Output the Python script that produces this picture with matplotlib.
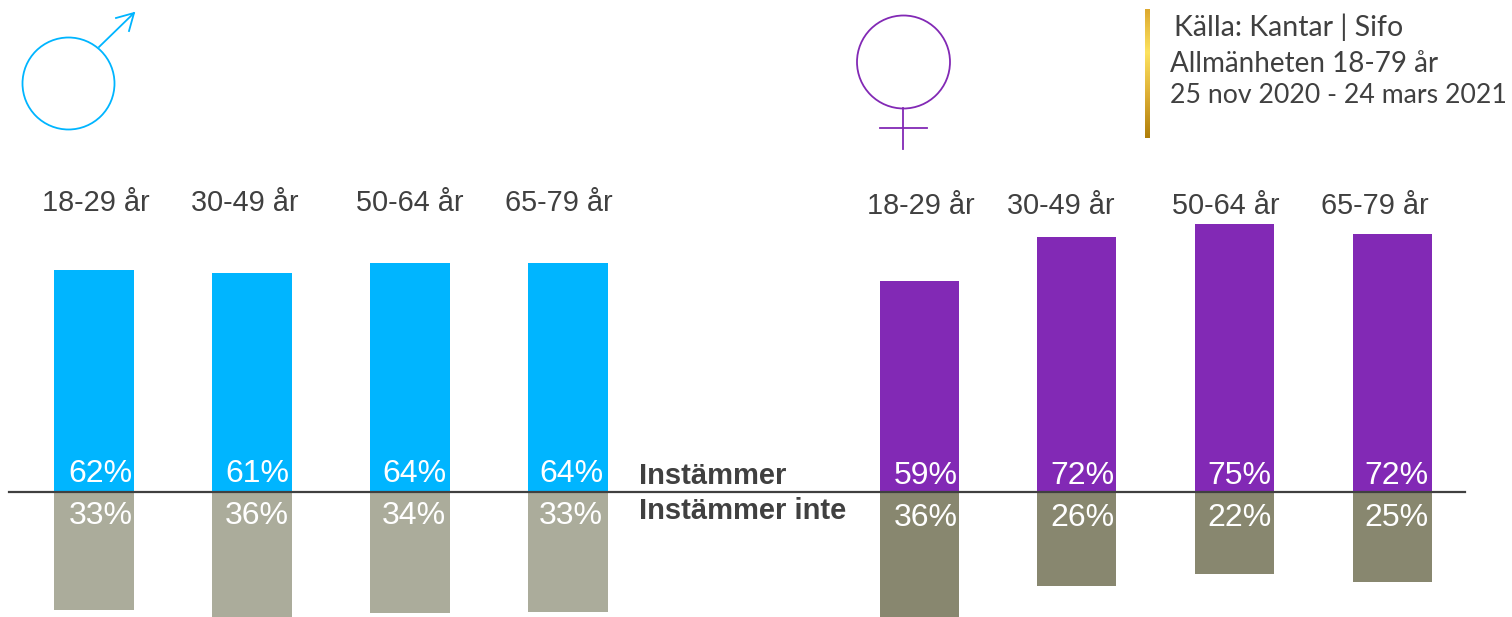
import numpy as np
import matplotlib
matplotlib.use("Agg")
import matplotlib.pyplot as plt
from matplotlib.colors import LinearSegmentedColormap
from matplotlib.patches import Circle

# Values
age_groups = ["18-29 år", "30-49 år", "50-64 år", "65-79 år"]
men_agree = [62, 61, 64, 64]
men_disagree = [33, 36, 34, 33]
women_agree = [59, 72, 75, 72]
women_disagree = [36, 26, 22, 25]

# Bar lengths differ a little from the rounded labels
men_agree_len = [62, 61.2, 64, 64]
men_disagree_len = [33, 36, 33.9, 33.5]
women_agree_len = [59, 71.3, 74.8, 72.1]
women_disagree_len = [36, 26.3, 22.9, 25.2]

source_lines = ["Källa: Kantar | Sifo", "Allmänheten 18-79 år", "25 nov 2020 - 24 mars 2021"]

BLUE = "#00B5FF"
PURPLE = "#8229B5"
LIGHT_GREY = "#ABAC9B"
DARK_GREY = "#88876F"
TEXT = "#404040"

plt.rcParams["font.family"] = ["Liberation Sans", "DejaVu Sans"]

W, H = 1512, 617
fig = plt.figure(figsize=(W / 100, H / 100), dpi=100)

# Bar axes: one x unit is one bar step, y is percent, zero sits on the line
ax = fig.add_axes([0, 0, 1, 1])
step_px = 157.9
px_per_pct = 3.58
zero_px = 492
ax.set_xlim(-94 / step_px, (W - 94) / step_px)
ax.set_ylim(-(H - zero_px) / px_per_pct, zero_px / px_per_pct)
ax.axis("off")


def draw_group(x, agree, disagree, agree_len, disagree_len, top_color, bottom_color, shift, width):
    ax.bar(x, agree_len, width=width, color=top_color)
    ax.bar(x, [-v for v in disagree_len], width=width, color=bottom_color)
    for i, (xi, a, d) in enumerate(zip(x, agree, disagree)):
        # the labels drift slightly left of the bar centres in the original
        lx = xi + 0.04 - 0.006 * i
        ax.text(lx, 5.05 - shift, f"{a}%", color="white", fontsize=23, ha="center", va="center")
        ax.text(lx, -6.75 - shift, f"{d}%", color="white", fontsize=23, ha="center", va="center")


men_x = np.arange(4)
women_x = np.arange(4) + 5.225
draw_group(men_x, men_agree, men_disagree, men_agree_len, men_disagree_len, BLUE, LIGHT_GREY, 0, 0.505)
draw_group(women_x, women_agree, women_disagree, women_agree_len, women_disagree_len, PURPLE, DARK_GREY, 0.5, 0.5)

ax.text(3.45, 4.5, "Instämmer", color=TEXT, fontsize=21, fontweight="bold", va="center")
ax.text(3.45, -5.2, "Instämmer inte", color=TEXT, fontsize=21, fontweight="bold", va="center")

# Overlay in pixels for the symbols, the age headings, the zero line and the source box
deco = fig.add_axes([0, 0, 1, 1], facecolor="none")
deco.set_xlim(0, W)
deco.set_ylim(H, 0)
deco.axis("off")

deco.plot([9, 1465], [492, 492], color=TEXT, lw=1.6)

for group, px in zip(age_groups, [96, 245, 410, 559]):
    deco.text(px, 203, group, color=TEXT, fontsize=20.8, ha="center", va="center")
for group, px in zip(age_groups, [921, 1061, 1226, 1375]):
    deco.text(px, 206, group, color=TEXT, fontsize=20.8, ha="center", va="center")

# male symbol
deco.add_patch(Circle((68.5, 83.5), 46, fill=False, ec=BLUE, lw=1.3))
deco.plot([99, 134, 116], [47, 13, 18], color=BLUE, lw=1.3)
deco.plot([134, 129], [13, 31], color=BLUE, lw=1.3)

# female symbol
deco.add_patch(Circle((903.5, 62), 46.5, fill=False, ec=PURPLE, lw=1.3))
deco.plot([903, 903], [108, 149], color=PURPLE, lw=1.3)
deco.plot([880, 927], [128, 128], color=PURPLE, lw=1.3)

# gold gradient bar
gold = LinearSegmentedColormap.from_list("gold", ["#DDA92F", "#FDE35F", "#DDAE34", "#B07F0A"])
deco.imshow(np.linspace(0, 1, 100).reshape(-1, 1), cmap=gold, extent=[1145, 1150, 138, 9], aspect="auto")
deco.set_xlim(0, W)
deco.set_ylim(H, 0)

deco.text(1174, 27, source_lines[0], color=TEXT, fontsize=20.5, family="Lato", va="center")
deco.text(1170, 64.5, source_lines[1], color=TEXT, fontsize=20, family="Lato", va="center")
deco.text(1170, 95.5, source_lines[2], color=TEXT, fontsize=19.2, family="Lato", va="center")

fig.savefig("out.png", dpi=100)
